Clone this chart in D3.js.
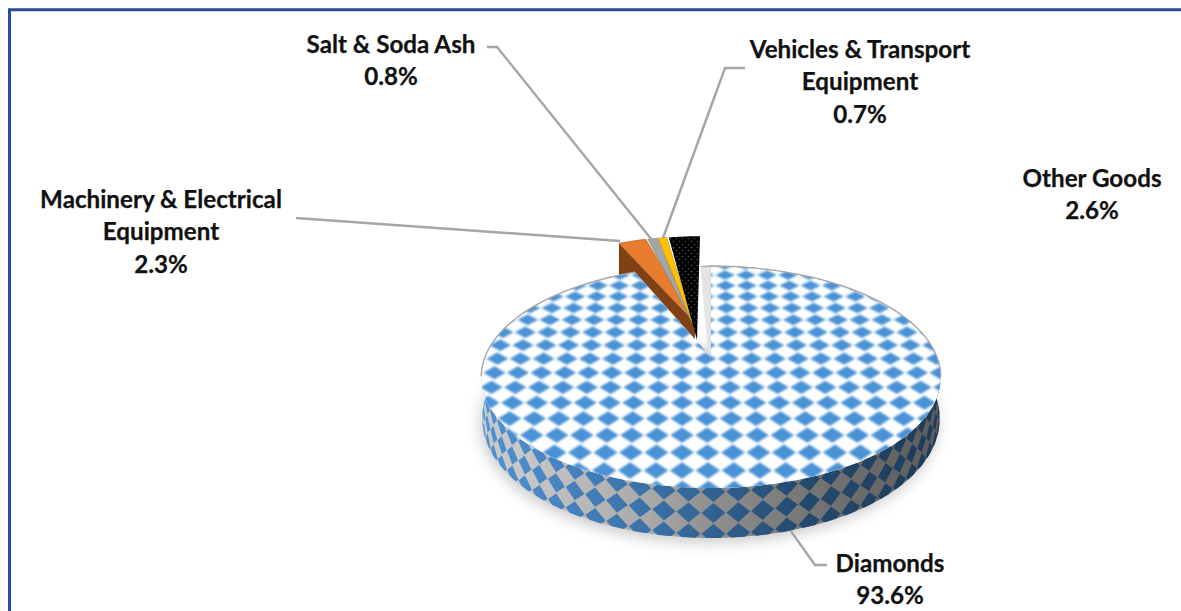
<!DOCTYPE html>
<html><head><meta charset="utf-8">
<script src="https://cdnjs.cloudflare.com/ajax/libs/d3/7.8.5/d3.min.js"></script>
<style>html,body{margin:0;padding:0;background:#fff;overflow:hidden}svg{display:block}
text{font-family:Lato,"Open Sans",sans-serif;font-weight:700;font-size:24.2px;fill:#111;stroke:#111;stroke-width:.25}</style>
</head><body><svg id="c" width="1181" height="611"></svg>
<script>
const categories = ["Diamonds","Machinery & Electrical Equipment","Salt & Soda Ash","Vehicles & Transport Equipment","Other Goods"];
const shares = [93.6,2.3,0.8,0.7,2.6];
const labelLines = [["Diamonds"],["Machinery & Electrical","Equipment"],["Salt & Soda Ash"],["Vehicles & Transport","Equipment"],["Other Goods"]];
const sliceColors = ["#ffffff","#e97c2e","#a5a5a5","#ffc000","#050505"];

// layout (not data)
const labelPos = [[890,572],[161,208],[391,53],[860,58],[1092,187]];
const leaderBends = [[[815,565],[827,565]],[[296,218]],[[497,47],[487,47]],[[725,68],[745,68]],null];
const leaderAnchor = [null,[620,241],[652,240],[663,238],null];
const cx=711,cy=357,A=107.4,B=226,k=0.18;

const svg=d3.select("#c"), defs=svg.append("defs");
const line=d3.line(), toRad=Math.PI/180;
const proj=(t)=>{const u=Math.sin(t),v=Math.cos(t),d=1+k*v;return [cx+B*u/d,cy-A*v/d];};
const base=(t)=>{const p=proj(t),v=Math.cos(t);return [cx+(p[0]-cx)*0.996,p[1]+40-10*v];};
const arcPts=(a,b,f,n=120)=>d3.range(n+1).map(i=>f(a+(b-a)*i/n));
const poly=p=>line(p)+"Z";

const arcs=d3.pie().sort(null).value(d=>d)(shares);
const dia=arcs[0];

// defs
const blur=(id,s)=>defs.append("filter").attr("id",id).attr("x","-20%").attr("y","-20%").attr("width","140%").attr("height","140%")
  .append("feGaussianBlur").attr("stdDeviation",s);
blur("b6",7);blur("b1",0.8);blur("b05",0.6);
const grad=(id,stops,x1=482,x2=942)=>{const g=defs.append("linearGradient").attr("id",id).attr("gradientUnits","userSpaceOnUse")
  .attr("x1",x1).attr("x2",x2).attr("y1",0).attr("y2",0);
  stops.forEach(s=>g.append("stop").attr("offset",s[0]).attr("stop-color",s[1]));};
grad("wallG",[[0,"#cacaca"],[0.1,"#c6c6c6"],[0.37,"#a8a8a8"],[0.5,"#8f8f8f"],[0.7,"#777"],[1,"#5a5a5a"]]);
grad("wallB",[[0,"#4f92d2"],[0.1,"#4a8ac8"],[0.37,"#3a70a6"],[0.5,"#326290"],[0.7,"#23496e"],[1,"#1d3b58"]]);
const topPts=[[cx,cy],...arcPts(dia.startAngle,dia.endAngle,proj,240)];
defs.append("clipPath").attr("id","topClip").append("path").attr("d",poly(topPts));
const wA=75*toRad,wB=285*toRad;
const wallPts=[...arcPts(wA,wB,proj),...arcPts(wB,wA,base)];
defs.append("clipPath").attr("id","wallClip").append("path").attr("d",poly(wallPts));
const pat=defs.append("pattern").attr("id","dots").attr("patternUnits","userSpaceOnUse").attr("width",6).attr("height",6);
pat.append("rect").attr("width",6).attr("height",6).attr("fill","#040404");
pat.append("circle").attr("cx",1.5).attr("cy",1.5).attr("r",.8).attr("fill","#555");
pat.append("circle").attr("cx",4.5).attr("cy",4.5).attr("r",.8).attr("fill","#444");

// frame
svg.append("path").attr("d","M9.5,611V9.8H1181").attr("fill","none").attr("stroke","#2b4b9e").attr("stroke-width",3);

// shadow
svg.append("path").attr("d",poly(arcPts(60*toRad,300*toRad,base))).attr("fill","#9a9a9a").attr("opacity",.5)
  .attr("transform","translate(-2,5)").attr("filter","url(#b6)");

// outer wall
const wall=svg.append("g").attr("clip-path","url(#wallClip)");
wall.append("path").attr("d",poly(wallPts)).attr("fill","url(#wallG)");
const step=5.2,dT=0.21;
const wallPt=(deg,t)=>{const a=deg*toRad,p=proj(a),q=base(a);return [p[0]+(q[0]-p[0])*t,p[1]+(q[1]-p[1])*t];};
const wg=wall.append("g").attr("filter","url(#b05)");
[0.08,0.5,0.92].forEach(t=>d3.range(-20,21).forEach(n=>{
  const th=179.5+n*step;
  wg.append("path").attr("fill","url(#wallB)")
    .attr("d",poly([wallPt(th-step*.48,t),wallPt(th,t-dT*.95),wallPt(th+step*.48,t),wallPt(th,t+dT*.95)]));
}));

// exploded slices
const small=arcs.slice(1);
const bisect=s=>Math.abs((s.startAngle+s.endAngle)/2/toRad-360);
const tipOf=s=>{const f=(bisect(s)-4.68)/13.9;return [cx-14-2*f,cy-17-17*f];};
const outerOf=(s,t)=>{const f=(bisect(s)-4.68)/13.9,p=proj(t);return [p[0]-11-5*f,cy-17+(p[1]-cy)*1.14];};
const explo=svg.append("g").attr("filter","url(#b05)");
const wedge=s=>[tipOf(s),...arcPts(s.startAngle,s.endAngle,t=>outerOf(s,t),12)];
const m=small[0],mo=outerOf(m,m.startAngle),mt=tipOf(m);
explo.append("path").attr("d",poly([mo,[mo[0],mo[1]+32],[mt[0],mt[1]+20],mt])).attr("fill","#7f4318");
small.forEach((s,i)=>{
  explo.append("path").attr("d",poly(wedge(s)))
    .attr("fill",i===3?"url(#dots)":sliceColors[i+1])
    .attr("stroke",i===3?"none":d3.color(sliceColors[i+1]).darker(.8)).attr("stroke-width",.6);
});

// inner cut wall of diamonds slice
const rim0=proj(dia.startAngle);
svg.append("path").attr("d",poly([[cx,cy],rim0,[rim0[0]-10.5,rim0[1]+1],[cx-4,cy-14]])).attr("fill","#e4e4e4").attr("filter","url(#b05)");
svg.append("path").attr("d",line([[cx+.5,cy],[rim0[0]+.5,rim0[1]],[rim0[0]-10.5,rim0[1]+.5]])).attr("stroke","#a0a0a0").attr("stroke-width",1.2).attr("fill","none");

// top face with perspective lattice
svg.append("path").attr("d",poly(topPts)).attr("fill","#fff");
const tex=svg.append("g").attr("clip-path","url(#topClip)").append("g").attr("filter","url(#b1)");
const sx=y=>Math.min(26,21+0.0253*(y-275)), sy=y=>10.5+0.0425*(y-275), ph=y=>0.67+0.00108*(y-275);
const rows=[];
for(let y=265;y<510;y+=sy(Math.max(y,265))) rows.push(y);
rows.forEach(y=>{
  const w=sx(y),h=sy(y);
  d3.range(-11,12).forEach(c=>{
    const x=cx+(c+ph(y))*w;
    tex.append("path").attr("fill","#4a92d6")
      .attr("d",poly([[x-w*.47,y],[x,y-h*.44],[x+w*.47,y],[x,y+h*.44]]));
  });
});
// thin rim on the back half
[[dia.startAngle,100*toRad],[260*toRad,dia.endAngle]].forEach(([a,b])=>
  svg.append("path").attr("d",line(arcPts(a,b,proj))).attr("fill","none").attr("stroke","#a8a8a8").attr("stroke-width",1.4));

// leaders
const anchorDia=wallPt(163,1);
[0,1,2,3].forEach(i=>{
  const start=i===0?anchorDia:leaderAnchor[i];
  svg.append("path").attr("d",line([start,...leaderBends[i]])).attr("fill","none").attr("stroke","#a5a5a5").attr("stroke-width",2.4);
});

// labels
const lineH=32.3;
categories.forEach((c,i)=>{
  const lines=[...labelLines[i],shares[i].toFixed(1)+"%"];
  const t=svg.append("text").attr("text-anchor","middle");
  lines.forEach((l,j)=>t.append("tspan").attr("x",labelPos[i][0]).attr("y",labelPos[i][1]+j*lineH).text(l));
});
</script></body></html>
